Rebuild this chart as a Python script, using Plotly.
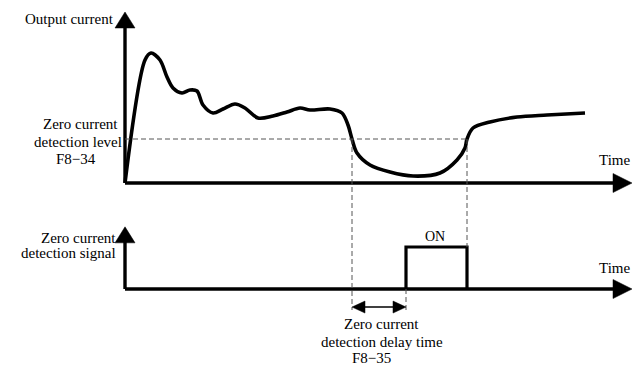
import plotly.graph_objects as go

# ---------------- data ----------------
# Output current curve: time (arbitrary units) and current (arbitrary units)
T_CUR = [0, 20, 26, 35, 42, 48, 57, 65, 72, 78, 88, 98, 110, 120, 133, 148, 162,
         175, 185, 205, 217, 223, 227, 232, 245, 265, 288, 315, 332, 340, 342,
         348, 365, 392, 422, 460]
I_CUR = [0, 123, 130, 123, 106, 95, 90, 93, 92, 78, 70, 74, 79, 75, 65, 67, 71,
         75, 73, 74, 70, 58, 44, 30, 18, 11, 7, 10, 23, 35, 44,
         55, 61, 66, 68, 70]

LEVEL = 44            # zero current detection level (F8-34)
T_DROP = 227          # current falls below the level
T_RISE = 342          # current rises above the level again
T_ON = 281            # signal turns ON after the delay time (F8-35)

# Zero current detection signal (0 = off, 1 = on)
SIG_T = [T_ON, T_ON, T_RISE, T_RISE]
SIG_V = [0, 1, 1, 0]

# axis extents (arrow tips)
T_TIP = 507
I_TIP = 171
S_TIP = 1.48
S_DIM = -0.5          # lower end of the dimension line guides
S_DIM_ARROW = -0.43   # height of the delay-time dimension arrow

X_RANGE = [-125, 508]
Y1_RANGE = [-183, 183]
Y2_RANGE = [-77 / 42, 289 / 42]

FONT = "Liberation Serif, Times New Roman, serif"


def cur_from_sig(s):
    frac = (s - Y2_RANGE[0]) / (Y2_RANGE[1] - Y2_RANGE[0])
    return Y1_RANGE[0] + frac * (Y1_RANGE[1] - Y1_RANGE[0])


fig = go.Figure()

# current curve
fig.add_trace(go.Scatter(x=T_CUR, y=I_CUR, mode="lines",
                         line=dict(color="black", width=3.6, shape="spline", smoothing=0.9),
                         hoverinfo="skip", showlegend=False, yaxis="y"))
# signal pulse
fig.add_trace(go.Scatter(x=SIG_T, y=SIG_V, mode="lines",
                         line=dict(color="black", width=3.2),
                         hoverinfo="skip", showlegend=False, yaxis="y2"))

shapes = []
AX = dict(color="black", width=3.4)
DASH = dict(color="#555555", width=1, dash="5px,3px")

# axes lines
shapes.append(dict(type="line", xref="x", yref="y", x0=0, x1=T_TIP - 12, y0=0, y1=0, line=AX))
shapes.append(dict(type="line", xref="x", yref="y", x0=0, x1=0, y0=0, y1=I_TIP - 10, line=AX))
shapes.append(dict(type="line", xref="x", yref="y2", x0=0, x1=T_TIP - 12, y0=0, y1=0, line=AX))
shapes.append(dict(type="line", xref="x", yref="y2", x0=0, x1=0, y0=0, y1=S_TIP - 0.25, line=AX))


def head(xref, yref, xa, ya, path):
    return dict(type="path", xref=xref, yref=yref, xsizemode="pixel", ysizemode="pixel",
                xanchor=xa, yanchor=ya, path=path, fillcolor="black",
                line=dict(color="black", width=0.5))


RIGHT = "M0,0 L-19,9.5 L-19,-9.5 Z"
UP = "M0,0 L-10,-16 L10,-16 Z"
shapes.append(head("x", "y", T_TIP, 0, RIGHT))
shapes.append(head("x", "y", 0, I_TIP, UP))
shapes.append(head("x", "y2", T_TIP, 0, RIGHT))
shapes.append(head("x", "y2", 0, S_TIP, UP))

# dashed guides
shapes.append(dict(type="line", xref="x", yref="y", x0=0, x1=T_RISE, y0=LEVEL, y1=LEVEL, line=DASH))
shapes.append(dict(type="line", xref="x", yref="y", x0=T_DROP, x1=T_DROP, y0=LEVEL,
                   y1=cur_from_sig(S_DIM), line=DASH))
shapes.append(dict(type="line", xref="x", yref="y", x0=T_RISE, x1=T_RISE, y0=LEVEL,
                   y1=cur_from_sig(1), line=DASH))
shapes.append(dict(type="line", xref="x", yref="y2", x0=T_ON, x1=T_ON, y0=0, y1=S_DIM, line=DASH))

# delay-time dimension arrow
shapes.append(dict(type="line", xref="x", yref="y2", x0=T_DROP + 8, x1=T_ON - 8,
                   y0=S_DIM_ARROW, y1=S_DIM_ARROW, line=dict(color="black", width=1.5)))
shapes.append(head("x", "y2", T_DROP, S_DIM_ARROW, "M0,0 L13,6 L13,-6 Z"))
shapes.append(head("x", "y2", T_ON, S_DIM_ARROW, "M0,0 L-13,6 L-13,-6 Z"))

fig.update_layout(shapes=shapes)

ann = []


def txt(text, x, y, yref="y", xanchor="center", size=15):
    ann.append(dict(text=text, x=x, y=y, xref="x", yref=yref, xanchor=xanchor,
                    yanchor="middle", showarrow=False,
                    font=dict(family=FONT, size=size, color="black")))


txt("Output current", -9, 164, xanchor="right")
txt("Zero current", -45, 59)
txt("detection level", -47, 41)
txt("F8\u221234", -49, 24)
txt("Time", 489, 23)
txt("Zero current", -7, 1.214, yref="y2", xanchor="right")
txt("detection signal", -7, 0.857, yref="y2", xanchor="right")
txt("ON", 310, 1.24, yref="y2", size=14)
txt("Time", 489, 0.5, yref="y2")
txt("Zero current", 256, -0.83, yref="y2")
txt("detection delay time", 257, -1.26, yref="y2")
txt("F8\u221235", 246, -1.64, yref="y2")

fig.update_layout(
    annotations=ann,
    width=633, height=366, autosize=False,
    margin=dict(l=0, r=0, t=0, b=0),
    paper_bgcolor="white", plot_bgcolor="white",
    xaxis=dict(range=X_RANGE, visible=False, fixedrange=True),
    yaxis=dict(range=Y1_RANGE, visible=False, fixedrange=True),
    yaxis2=dict(range=Y2_RANGE, visible=False, overlaying="y", fixedrange=True),
    hovermode=False,
)

fig.write_html("out.html", config={"displayModeBar": False},
               post_script="document.body.style.margin='0px';document.body.style.padding='0px';")
